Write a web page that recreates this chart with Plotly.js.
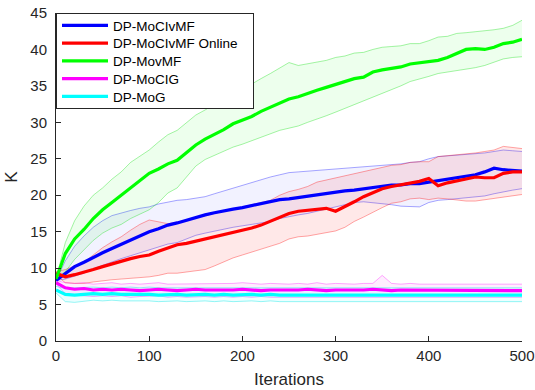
<!DOCTYPE html>
<html>
<head>
<meta charset="utf-8">
<script src="https://cdn.plot.ly/plotly-3.0.1.min.js"></script>
<style>html,body{margin:0;padding:0;background:#fff;}#chart{width:535px;height:390px;}</style>
</head>
<body>
<div id="chart"></div>
<script>
const iterations = [0,10,20,30,40,50,60,70,80,90,100,110,120,130,140,150,160,170,180,190,200,210,220,230,240,250,260,270,280,290,300,310,320,330,340,350,360,370,380,390,400,410,420,430,440,450,460,470,480,490,500];

const seriesNames = ["DP-MoCIvMF", "DP-MoCIvMF Online", "DP-MovMF", "DP-MoCIG", "DP-MoG"];

// DP-MoCIvMF (blue)
const blueMean  = [8.3,9.3,10.2,10.8,11.5,12.1,12.7,13.3,13.9,14.5,15.0,15.4,15.9,16.2,16.6,17.0,17.3,17.6,17.9,18.1,18.3,18.6,18.9,19.1,19.4,19.5,19.7,19.9,20.1,20.3,20.5,20.6,20.7,20.9,21.1,21.2,21.4,21.4,21.6,21.6,21.8,21.9,22.1,22.3,22.6,22.8,23.2,23.7,23.5,23.4,23.3];
const blueUpper = [8.3,11.0,13.0,14.4,15.6,16.5,17.2,17.6,17.9,18.2,18.4,18.8,19.1,19.3,19.4,19.6,19.8,20.2,20.6,21.0,21.4,21.7,22.1,22.5,22.8,23.1,23.2,23.3,23.4,23.5,23.6,23.6,23.7,23.8,23.9,24.0,24.1,24.3,24.5,24.6,25.0,25.3,25.4,25.5,25.5,25.6,25.8,26.0,26.2,26.1,26.0];
const blueLower = [8.3,8.5,8.9,9.3,9.9,10.4,10.9,11.3,11.7,12.1,12.5,12.9,13.3,13.5,14.0,14.5,14.8,15.1,15.4,15.6,15.8,16.0,16.2,16.4,16.8,17.1,17.3,17.5,17.8,18.0,18.3,18.6,19.0,19.1,19.0,18.8,18.7,18.5,18.4,18.4,19.0,19.3,19.4,19.5,19.6,19.7,19.9,20.2,20.5,20.7,20.9];

// DP-MoCIvMF Online (red)
const redMean  = [9.3,8.8,9.1,9.4,9.8,10.2,10.6,11.0,11.3,11.6,11.8,12.3,12.8,13.2,13.4,13.7,13.9,14.2,14.5,14.9,15.1,15.5,15.9,16.4,16.9,17.5,17.8,17.9,18.1,18.2,17.8,18.4,19.1,19.8,20.4,20.9,21.2,21.4,21.6,21.9,22.3,21.3,21.7,22.0,22.3,22.5,22.4,22.4,23.0,23.2,23.2];
const redUpper = [9.5,9.8,10.3,10.8,11.8,12.8,13.6,14.3,15.2,16.0,16.6,16.3,16.1,16.3,16.6,16.9,17.1,17.4,17.7,18.0,18.3,18.6,19.0,19.3,20.0,20.5,20.8,21.2,21.8,22.1,22.4,22.7,23.0,23.3,23.6,23.9,24.1,24.2,24.5,24.6,24.6,25.3,25.4,25.5,25.7,25.8,26.0,26.2,26.7,26.6,26.4];
const redLower = [9.0,8.0,7.9,7.9,8.1,8.3,8.4,8.5,8.6,8.7,8.8,9.0,9.3,9.3,9.5,9.6,9.8,10.3,10.9,11.4,11.8,12.2,12.6,12.9,13.4,14.0,14.3,14.4,14.6,14.9,15.1,15.6,16.4,17.0,17.7,18.3,18.9,19.1,19.5,19.6,19.4,19.6,19.5,19.3,19.2,19.2,19.4,19.6,19.8,19.9,20.1];

// DP-MovMF (green)
const greenMean  = [8.5,12.0,14.0,15.3,16.8,18.0,19.0,20.0,21.0,22.0,23.0,23.6,24.3,24.8,25.8,26.9,27.7,28.3,29.0,29.8,30.3,30.8,31.5,32.1,32.6,33.2,33.5,34.0,34.4,34.8,35.2,35.5,36.0,36.2,36.9,37.2,37.4,37.6,38.0,38.2,38.3,38.5,38.9,39.4,40.0,40.1,40.0,40.3,40.8,41.0,41.4];
const greenUpper = [8.5,13.5,16.5,18.5,20.0,21.0,22.2,23.2,24.5,25.3,26.2,27.3,28.3,28.9,30.0,31.0,31.7,32.5,33.3,34.0,34.5,35.3,36.0,36.7,37.5,38.2,37.8,38.0,38.3,38.5,38.9,39.1,39.5,39.6,40.0,40.3,40.4,40.5,40.8,40.8,41.2,41.7,41.8,42.2,42.3,42.4,42.5,42.7,42.9,43.3,44.0];
const greenLower = [8.5,9.5,11.2,12.5,13.8,14.8,15.5,16.0,16.8,17.4,18.0,19.0,20.3,21.0,22.5,24.0,24.9,25.5,26.0,26.6,27.0,27.5,28.0,28.5,28.9,29.2,29.5,30.0,30.4,30.9,31.4,31.9,32.5,33.0,33.5,34.0,34.5,35.0,35.6,35.9,36.3,36.7,36.9,37.0,37.2,37.5,37.8,38.2,38.7,38.9,39.0];

// DP-MoCIG (magenta)
const magentaMean  = [8.0,7.3,7.1,7.2,7.0,7.1,7.0,7.1,7.0,6.9,7.0,7.1,7.0,6.9,7.0,7.1,7.0,7.0,6.9,7.0,7.1,7.0,6.9,7.0,7.0,6.9,7.0,7.1,7.0,6.9,7.0,7.0,6.9,7.0,7.1,7.0,6.9,7.0,7.0,6.9,7.0,7.0,6.9,7.0,7.0,6.9,7.0,6.9,7.0,6.9,6.9];
const magentaUpper = [8.3,8.0,7.9,8.0,7.8,7.9,8.0,7.8,7.9,7.8,7.9,8.0,7.8,7.8,7.9,7.8,7.9,7.8,7.8,7.9,8.0,7.9,7.8,7.9,7.8,7.8,7.9,7.8,8.0,7.8,7.9,7.8,7.8,7.9,7.9,9.0,7.9,7.8,7.9,7.8,7.8,7.9,7.8,7.8,7.9,7.8,7.8,7.9,7.8,7.8,7.8];
const magentaLower = [7.8,6.5,6.3,6.2,6.1,6.2,6.1,6.2,6.0,6.1,6.1,6.2,6.0,6.1,6.0,6.1,6.1,6.0,6.1,6.0,6.1,6.0,6.1,6.0,6.0,6.1,6.0,6.1,6.0,6.0,6.1,6.0,6.0,6.1,6.0,6.0,6.1,6.0,6.0,6.0,6.1,6.0,6.0,6.1,6.0,6.0,6.0,6.1,6.0,6.0,6.0];

// DP-MoG (cyan)
const cyanMean  = [7.0,6.4,6.3,6.4,6.5,6.4,6.5,6.4,6.4,6.5,6.4,6.3,6.4,6.4,6.3,6.4,6.4,6.3,6.4,6.3,6.4,6.4,6.3,6.4,6.3,6.3,6.4,6.3,6.4,6.3,6.4,6.3,6.3,6.4,6.3,6.3,6.4,6.3,6.3,6.4,6.3,6.3,6.4,6.3,6.3,6.3,6.4,6.3,6.3,6.3,6.3];
const cyanUpper = [7.5,7.2,7.3,7.4,7.4,7.3,7.4,7.3,7.4,7.3,7.4,7.3,7.3,7.4,7.3,7.3,7.4,7.3,7.4,7.3,7.3,7.4,7.3,7.3,7.4,7.3,7.3,7.4,7.3,7.3,7.4,7.3,7.3,7.3,7.4,7.3,7.3,7.4,7.3,7.3,7.3,7.4,7.3,7.3,7.3,7.4,7.3,7.3,7.3,7.3,7.3];
const cyanLower = [6.6,5.4,5.3,5.5,5.6,5.5,5.6,5.5,5.5,5.6,5.5,5.4,5.5,5.5,5.4,5.5,5.5,5.4,5.5,5.4,5.5,5.5,5.4,5.5,5.4,5.4,5.5,5.4,5.5,5.4,5.5,5.4,5.4,5.5,5.4,5.4,5.5,5.4,5.4,5.5,5.4,5.4,5.5,5.4,5.4,5.5,5.4,5.4,5.4,5.5,5.4];

const xTickVals = [0,100,200,300,400,500];
const yTickVals = [0,5,10,15,20,25,30,35,40,45];

const groups = [
  {name: seriesNames[0], mean: blueMean, up: blueUpper, lo: blueLower, col: "#0000ff", edge: "rgba(0,0,255,0.35)", fill: "rgba(0,0,255,0.05)"},
  {name: seriesNames[1], mean: redMean, up: redUpper, lo: redLower, col: "#ff0000", edge: "rgba(255,0,0,0.35)", fill: "rgba(255,0,0,0.09)"},
  {name: seriesNames[2], mean: greenMean, up: greenUpper, lo: greenLower, col: "#00ff00", edge: "rgba(0,220,0,0.35)", fill: "rgba(0,255,0,0.07)"},
  {name: seriesNames[3], mean: magentaMean, up: magentaUpper, lo: magentaLower, col: "#ff00ff", edge: "rgba(255,0,255,0.35)", fill: "rgba(255,0,255,0.07)"},
  {name: seriesNames[4], mean: cyanMean, up: cyanUpper, lo: cyanLower, col: "#00ffff", edge: "rgba(0,230,230,0.4)", fill: "rgba(0,255,255,0.08)"}
];

const traces = [];
groups.forEach(g => {
  traces.push({x: iterations, y: g.lo, type: "scatter", mode: "lines", line: {color: g.edge, width: 1}, showlegend: false, hoverinfo: "skip"});
  traces.push({x: iterations, y: g.up, type: "scatter", mode: "lines", line: {color: g.edge, width: 1}, fill: "tonexty", fillcolor: g.fill, showlegend: false, hoverinfo: "skip"});
});
groups.forEach(g => {
  traces.push({x: iterations, y: g.mean, type: "scatter", mode: "lines", name: g.name, line: {color: g.col, width: 3.2}});
});

const FONT = "Liberation Sans, Arial, Helvetica, sans-serif";
const axisCommon = {
  showline: true, linecolor: "#262626", linewidth: 1,
  ticks: "inside", ticklen: 5, tickcolor: "#262626", tickwidth: 1,
  showgrid: false, zeroline: false, mirror: false,
  tickfont: {family: FONT, size: 15, color: "#262626"}
};

const layout = {
  width: 535, height: 390,
  margin: {l: 56, r: 13, t: 13, b: 49},
  paper_bgcolor: "#ffffff", plot_bgcolor: "#ffffff",
  font: {family: FONT, color: "#262626"},
  xaxis: Object.assign({}, axisCommon, {
    range: [0, 500], tickvals: xTickVals, ticktext: xTickVals.map(String),
    ticklabelstandoff: 1,
    title: {text: "Iterations", font: {size: 17, color: "#262626"}, standoff: 10}
  }),
  yaxis: Object.assign({}, axisCommon, {
    range: [0, 45], tickvals: yTickVals, ticktext: yTickVals.map(String),
    ticklabelstandoff: 5,
    title: {text: "K", font: {size: 17, color: "#262626"}, standoff: 8}
  }),
  legend: {
    x: 0, y: 1, xanchor: "left", yanchor: "top", traceorder: "normal",
    bgcolor: "#ffffff", bordercolor: "#262626", borderwidth: 1,
    font: {family: FONT, size: 13.5, color: "#000000"},
    tracegroupgap: 0, itemwidth: 46
  },
  showlegend: true
};

Plotly.newPlot("chart", traces, layout, {displayModeBar: false, staticPlot: true}).then(() => {
  const root = document.getElementById("chart");
  root.querySelectorAll(".legendlines path").forEach(p => p.setAttribute("d", "M5,0h46"));
  // tighten legend rows to match the reference box
  const items = Array.from(root.querySelectorAll(".legend .traces"));
  const rowGap = 17.75;
  const parse = t => { const m = /translate\(\s*([-\d.]+)[ ,]+([-\d.]+)/.exec(t || ""); return m ? [parseFloat(m[1]), parseFloat(m[2])] : [0, 0]; };
  if (items.length) {
    const first = parse(items[0].getAttribute("transform"));
    const y0 = first[1] - 4;
    items.forEach((g, i) => {
      const p = parse(g.getAttribute("transform"));
      g.setAttribute("transform", "translate(" + p[0] + "," + (y0 + i * rowGap) + ")");
    });
    const h = y0 + (items.length - 1) * rowGap + 12;
    root.querySelectorAll(".legend rect.bg").forEach(r => { r.setAttribute("height", h); r.setAttribute("width", 197); });
    root.querySelectorAll("clipPath[id^='legend'] rect, .legend clipPath rect").forEach(r => { r.setAttribute("height", h); r.setAttribute("width", 197); });
  }
});
</script>
</body>
</html>
